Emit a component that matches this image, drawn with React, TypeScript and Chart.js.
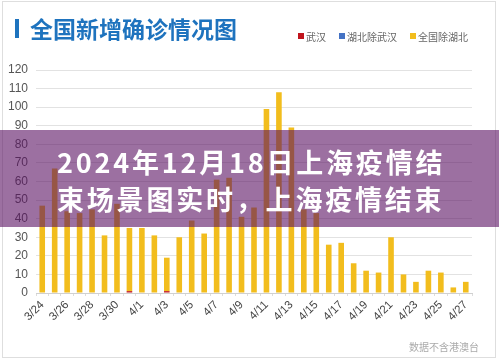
import React, { useEffect, useRef } from 'react';
import { Chart, registerables } from 'chart.js';
Chart.register(...registerables);

const dates = ['3/24','3/25','3/26','3/27','3/28','3/29','3/30','3/31','4/1','4/2','4/3','4/4','4/5','4/6','4/7','4/8','4/9','4/10','4/11','4/12','4/13','4/14','4/15','4/16','4/17','4/18','4/19','4/20','4/21','4/22','4/23','4/24','4/25','4/26','4/27'];
const wuhan = [0,0,0,0,0,0,0,1,0,0,1,0,0,0,0,0,0,0,0,0,0,0,0,0,0,0,0,0,0,0,0,0,0,0,0];
const hubeiExWuhan = [0,0,0,0,0,0,0,0,0,0,0,0,0,0,0,0,0,0,0,0,0,0,0,0,0,0,0,0,0,0,0,0,0,0,0];
const nationalExHubei = [47,67,44,43,45,31,48,34,35,31,18,30,39,32,61,62,41,46,99,108,89,45,43,26,27,16,12,11,30,10,6,12,11,3,6];
const seriesNames = ['武汉', '湖北除武汉', '全国除湖北'];
const seriesColors = ['#c0141c', '#4472c4', '#f2bd1d'];
const yMax = 120;
const yStep = 10;

const FONT = '"Noto Sans CJK SC", "Liberation Sans", sans-serif';

export default function App() {
  const ref = useRef<HTMLCanvasElement>(null);
  useEffect(() => {
    const chart = new Chart(ref.current!, {
      type: 'bar',
      data: {
        labels: dates,
        datasets: [
          { label: seriesNames[0], data: wuhan, backgroundColor: seriesColors[0] },
          { label: seriesNames[1], data: hubeiExWuhan, backgroundColor: seriesColors[1] },
          { label: seriesNames[2], data: nationalExHubei, backgroundColor: seriesColors[2] },
        ],
      },
      options: {
        animation: false,
        responsive: false,
        devicePixelRatio: 1,
        layout: { padding: { left: 0, right: 27, top: 70, bottom: 0 } },
        plugins: { legend: { display: false }, tooltip: { enabled: false } },
        datasets: { bar: { barPercentage: 0.45, categoryPercentage: 1 } },
        scales: {
          x: {
            stacked: true,
            grid: { display: true, drawOnChartArea: false, color: '#dddddd', tickLength: 3, offset: true },
            border: { display: true, color: '#d0d0d0' },
            ticks: {
              autoSkip: false,
              maxRotation: 45,
              minRotation: 45,
              color: '#444',
              font: { family: '"Liberation Sans", sans-serif', size: 11.5 },
              padding: 2,
              callback: (_v: any, i: number) => (i % 2 === 0 ? dates[i] : ''),
            },
            afterFit: (s: any) => { s.height = 65; },
          },
          y: {
            stacked: true,
            min: 0,
            max: yMax,
            grid: { color: '#e2e2e2', drawTicks: false },
            border: { display: false },
            ticks: {
              stepSize: yStep,
              color: '#555',
              padding: 8,
              font: { family: '"Liberation Sans", sans-serif', size: 12 },
            },
            afterFit: (s: any) => { s.width = 36; },
          },
        },
      },
    });
    return () => chart.destroy();
  }, []);

  const legendItems = [
    { name: seriesNames[0], color: seriesColors[0], x: 298 },
    { name: seriesNames[1], color: seriesColors[1], x: 339 },
    { name: seriesNames[2], color: seriesColors[2], x: 410 },
  ];

  return (
    <div style={{ position: 'fixed', left: 0, top: 0, width: 499, height: 358, background: '#fff', overflow: 'hidden', fontFamily: FONT }}>
      <div style={{ position: 'absolute', left: 2, top: 1, width: 492, height: 355, border: '1px solid #dedede' }} />
      <canvas ref={ref} width={499} height={358} style={{ position: 'absolute', left: 0, top: 0 }} />
      <div style={{ position: 'absolute', left: 15, top: 19, width: 4, height: 19, background: '#1e73be' }} />
      <div style={{ position: 'absolute', left: 30, top: 13, fontSize: 23, fontWeight: 700, color: '#1e73be', lineHeight: '30px', whiteSpace: 'nowrap' }}>全国新增确诊情况图</div>
      {legendItems.map((it) => (
        <div key={it.name} style={{ position: 'absolute', left: it.x, top: 29, height: 14, display: 'flex', alignItems: 'center', fontSize: 10, color: '#666', whiteSpace: 'nowrap' }}>
          <span style={{ display: 'inline-block', width: 6, height: 6, background: it.color, marginRight: 2 }} />
          {it.name}
        </div>
      ))}
      <div style={{ position: 'absolute', left: 409, top: 339, fontSize: 10, color: '#aaa', whiteSpace: 'nowrap' }}>数据不含港澳台</div>
      <div style={{ position: 'absolute', left: 0, top: 130, width: 499, height: 97, background: 'rgba(90,16,98,0.6)' }} />
      <div style={{ position: 'absolute', left: 57, top: 143, color: '#fff', fontWeight: 700, fontSize: 27, lineHeight: '37px', letterSpacing: '2.8px', whiteSpace: 'nowrap' }}>
        <div>2024年12月18日上海疫情结</div>
        <div>束场景图实时，上海疫情结束</div>
      </div>
    </div>
  );
}
